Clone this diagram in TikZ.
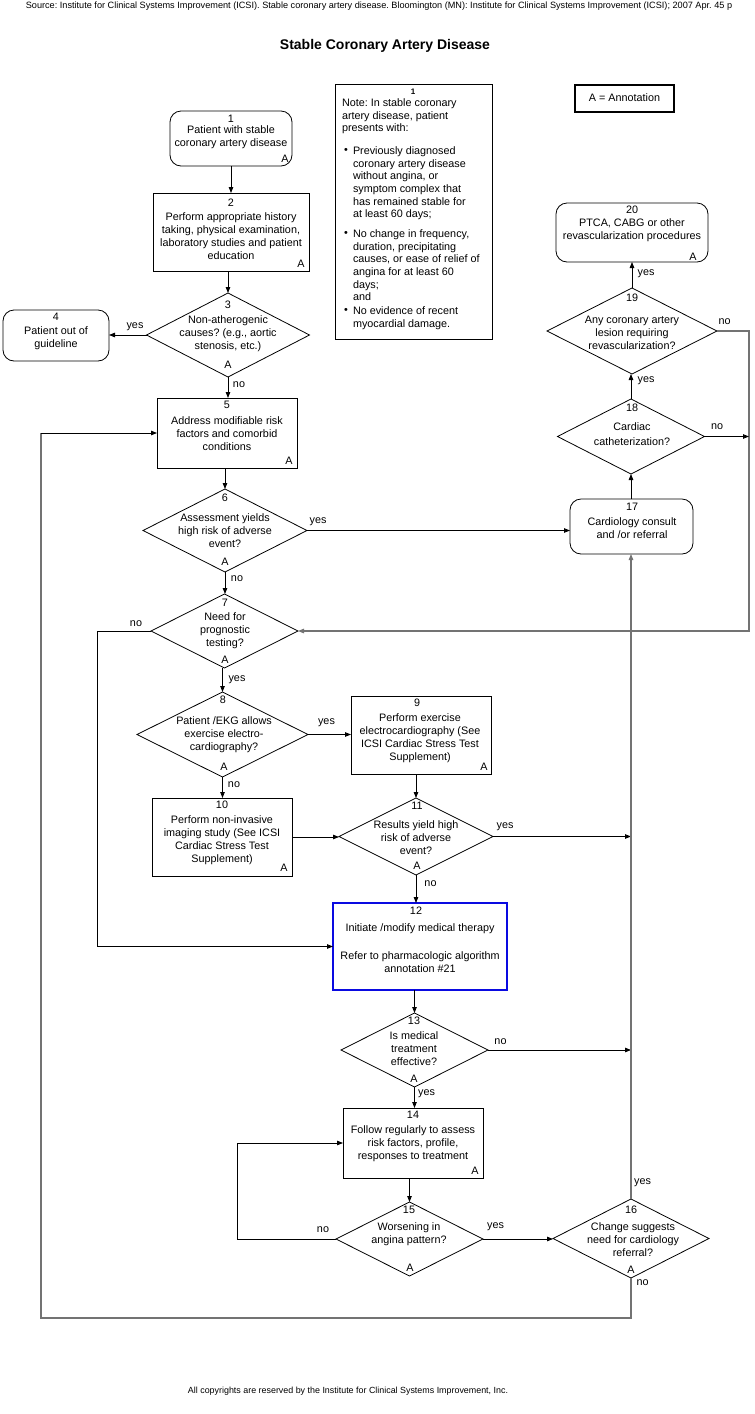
\documentclass[tikz,border=0pt]{standalone}
\usepackage{fontspec}
\setmainfont{Liberation Sans}
\usetikzlibrary{shapes.geometric,arrows.meta}
\definecolor{loopgray}{RGB}{115,115,115}
\definecolor{boxblue}{RGB}{10,10,225}
\frenchspacing
\begin{document}
\begin{tikzpicture}[x=1pt,y=-1pt,
  every node/.style={inner sep=0pt, outer sep=0pt},
  shp/.style={draw, line width=0.8pt},
  boxn/.style={shp, rectangle},
  rboxn/.style={shp, rectangle, rounded corners=11pt},
  dia/.style={shp, diamond},
  txt/.style={font=\fontsize{10.8}{13}\selectfont, align=center},
  notetxt/.style={font=\fontsize{10.8}{12.7}\selectfont, align=left, anchor=north west},
  num/.style={font=\fontsize{10.8}{13}\selectfont},
  lab/.style={font=\fontsize{10.8}{13}\selectfont},
  arr/.style={draw, line width=0.8pt, -{Triangle[length=6pt,width=4.5pt]}},
  garr/.style={arr, draw=loopgray, line width=1.1pt},
  gline/.style={draw=loopgray, line width=1.1pt},
]
\useasboundingbox (0,0) rectangle (755,1414);

% header, title, footer
\node[font=\fontsize{9.15}{10}\selectfont] (src) at (379,6) {Source: Institute for Clinical Systems Improvement (ICSI). Stable coronary artery disease. Bloomington (MN): Institute for Clinical Systems Improvement (ICSI); 2007 Apr. 45 p};
\node[font=\fontsize{14}{16}\selectfont\bfseries] (title) at (385,46) {Stable Coronary Artery Disease};
\node[font=\fontsize{8.9}{10}\selectfont] (foot) at (348,1391) {All copyrights are reserved by the Institute for Clinical Systems Improvement, Inc.};

% annotation legend
\node[draw, line width=2pt, minimum width=99pt, minimum height=27pt] (ann) at (624.5,98.5) {};
\node[num] (anntxt) at (624.5,98) {A = Annotation};

% note box
\node[boxn, minimum width=157pt, minimum height=255pt] (note) at (413.5,211.5) {};
\node[font=\fontsize{8}{9}\selectfont\bfseries] (notenum) at (413,92) {1};
\node[notetxt] (note1) at (342,98.5) {Note: In stable coronary\\artery disease, patient\\presents with:};
\node[num] (bul1) at (346,151) {•};
\node[notetxt] (note2) at (353,146.5) {Previously diagnosed\\coronary artery disease\\without angina, or\\symptom complex that\\has remained stable for\\at least 60 days;};
\node[num] (bul2) at (346,234) {•};
\node[notetxt] (note3) at (353,229.5) {No change in frequency,\\duration, precipitating\\causes, or ease of relief of\\angina for at least 60\\days;\\and};
\node[num] (bul3) at (346,311) {•};
\node[notetxt] (note4) at (353,306.5) {No evidence of recent\\myocardial damage.};

% 1
\node[rboxn, minimum width=122pt, minimum height=55pt] (n1) at (231,138.5) {};
\node[num] (n1num) at (231,119) {1};
\node[txt] (n1txt) at (231,137.5) {Patient with stable\\coronary artery disease};
\node[num] (n1a) at (285,159) {A};
% 2
\node[boxn, minimum width=156pt, minimum height=78pt] (n2) at (231,232) {};
\node[num] (n2num) at (231,203) {2};
\node[txt] (n2txt) at (231,236) {Perform appropriate history\\taking, physical examination,\\laboratory studies and patient\\education};
\node[num] (n2a) at (301,264) {A};
% 3
\node[dia, minimum width=163pt, minimum height=84pt] (d3) at (228,335) {};
\node[num] (d3num) at (228,305) {3};
\node[txt] (d3txt) at (228,333.5) {Non-atherogenic\\causes? (e.g., aortic\\stenosis, etc.)};
\node[num] (d3a) at (228,365) {A};
% 4
\node[rboxn, minimum width=106pt, minimum height=51pt] (n4) at (56,335.5) {};
\node[num] (n4num) at (56,317) {4};
\node[txt] (n4txt) at (56,338.5) {Patient out of\\guideline};
% 5
\node[boxn, minimum width=140pt, minimum height=70pt] (n5) at (227,433) {};
\node[num] (n5num) at (227,405) {5};
\node[txt] (n5txt) at (227,433.5) {Address modifiable risk\\factors and comorbid\\conditions};
\node[num] (n5a) at (289,461) {A};
% 6
\node[dia, minimum width=164pt, minimum height=83pt] (d6) at (225,530.5) {};
\node[num] (d6num) at (225,498) {6};
\node[txt] (d6txt) at (225,531) {Assessment yields\\high risk of adverse\\event?};
\node[num] (d6a) at (225,562) {A};
% 7
\node[dia, minimum width=147pt, minimum height=74pt] (d7) at (224.5,631) {};
\node[num] (d7num) at (225,603) {7};
\node[txt] (d7txt) at (225,631) {Need for\\prognostic\\testing?};
\node[num] (d7a) at (225,660) {A};
% 8
\node[dia, minimum width=171pt, minimum height=85pt] (d8) at (222.5,734.5) {};
\node[num] (d8num) at (223,700) {8};
\node[txt] (d8txt) at (224,735) {Patient /EKG allows\\exercise electro-\\cardiography?};
\node[num] (d8a) at (224,767) {A};
% 9
\node[boxn, minimum width=140pt, minimum height=78pt] (n9) at (421,735) {};
\node[num] (n9num) at (417,703) {9};
\node[txt] (n9txt) at (420,738) {Perform exercise\\electrocardiography (See\\ICSI Cardiac Stress Test\\Supplement)};
\node[num] (n9a) at (484,767) {A};
% 10
\node[boxn, minimum width=140pt, minimum height=78pt] (n10) at (222,837) {};
\node[num] (n10num) at (222,805) {10};
\node[txt] (n10txt) at (222,840) {Perform non-invasive\\imaging study (See ICSI\\Cardiac Stress Test\\Supplement)};
\node[num] (n10a) at (284,868) {A};
% 11
\node[dia, minimum width=154pt, minimum height=77pt] (d11) at (416,836.5) {};
\node[num] (d11num) at (417,806) {11};
\node[txt] (d11txt) at (416,837.5) {Results yield high\\risk of adverse\\event?};
\node[num] (d11a) at (417,866) {A};
% 12
\node[draw=boxblue, line width=2pt, minimum width=174pt, minimum height=87pt] (n12) at (420,946.5) {};
\node[num] (n12num) at (416,911) {12};
\node[txt] (n12txt1) at (420,929) {Initiate /modify medical therapy};
\node[txt] (n12txt2) at (420,962.5) {Refer to pharmacologic algorithm\\annotation \#21};
% 13
\node[dia, minimum width=147pt, minimum height=74pt] (d13) at (414.5,1050) {};
\node[num] (d13num) at (414,1021) {13};
\node[txt] (d13txt) at (414,1048.5) {Is medical\\treatment\\effective?};
\node[num] (d13a) at (414,1079) {A};
% 14
\node[boxn, minimum width=140pt, minimum height=70pt] (n14) at (413,1143) {};
\node[num] (n14num) at (413,1115) {14};
\node[txt] (n14txt) at (413,1143.5) {Follow regularly to assess\\risk factors, profile,\\responses to treatment};
\node[num] (n14a) at (475,1171) {A};
% 15
\node[dia, minimum width=147pt, minimum height=74pt] (d15) at (409.5,1239) {};
\node[num] (d15num) at (409,1210) {15};
\node[txt] (d15txt) at (409,1234.5) {Worsening in\\angina pattern?};
\node[num] (d15a) at (410,1268) {A};
% 16
\node[dia, minimum width=156pt, minimum height=79pt] (d16) at (631,1238.5) {};
\node[num] (d16num) at (631,1210) {16};
\node[txt] (d16txt) at (633,1240) {Change suggests\\need for cardiology\\referral?};
\node[num] (d16a) at (631,1270) {A};
% 17
\node[rboxn, minimum width=123pt, minimum height=55pt] (n17) at (631.5,526.5) {};
\node[num] (n17num) at (632,507) {17};
\node[txt] (n17txt) at (632,528) {Cardiology consult\\and /or referral};
% 18
\node[dia, minimum width=147pt, minimum height=75pt] (d18) at (631,436.5) {};
\node[num] (d18num) at (632,408) {18};
\node[txt, font=\fontsize{10.8}{15.5}\selectfont] (d18txt) at (632,434) {Cardiac\\catheterization?};
% 19
\node[dia, minimum width=170pt, minimum height=86pt] (d19) at (632,331) {};
\node[num] (d19num) at (632,298) {19};
\node[txt] (d19txt) at (632,333) {Any coronary artery\\lesion requiring\\revascularization?};
% 20
\node[rboxn, minimum width=152pt, minimum height=59pt] (n20) at (632,232.5) {};
\node[num] (n20num) at (632,210) {20};
\node[txt] (n20txt) at (632,230.5) {PTCA, CABG or other\\revascularization procedures};
\node[num] (n20a) at (693,257) {A};

% helper coordinates
\coordinate (rr) at (749,631);
\coordinate (ll) at (97,946.5);
\coordinate (lb) at (237,1143);
\coordinate (bb) at (41,1318);

% connectors
\draw[arr] (n1.south) -- (n1.south |- n2.north);
\draw[arr] (d3.north |- n2.south) -- (d3.north);
\draw[arr] (d3.west) -- (d3.west -| n4.east);
\draw[arr] (d3.south) -- (d3.south |- n5.north);
\draw[arr] (d6.north |- n5.south) -- (d6.north);
\draw[arr] (d6.south) -- (d6.south |- d7.north);
\draw[arr] (d6.east) -- (d6.east -| n17.west);
\draw[arr] (d18.south |- n17.north) -- (d18.south);
\draw[arr] (d18.north) -- (d18.north |- d19.south);
\draw[arr] (d19.north) -- (d19.north |- n20.south);
\draw[garr] (d19.east) -| (rr) -- (d7.east);
\draw[arr] (d18.east) -- (d18.east -| rr);
\draw[arr] (d7.west) -| (ll) -- (n12.west);
\draw[arr] (d8.north |- d7.south) -- (d8.north);
\draw[arr] (d8.east) -- (d8.east -| n9.west);
\draw[arr] (d8.south) -- (d8.south |- n10.north);
\draw[arr] (d11.north |- n9.south) -- (d11.north);
\draw[arr] (n10.east) -- (n10.east -| d11.west);
\draw[arr] (d11.east) -- (d11.east -| d16.north);
\draw[arr] (d11.south) -- (d11.south |- n12.north);
\draw[arr] (d13.north |- n12.south) -- (d13.north);
\draw[arr] (d13.east) -- (d13.east -| d16.north);
\draw[arr] (d13.south) -- (d13.south |- n14.north);
\draw[arr] (d15.north |- n14.south) -- (d15.north);
\draw[arr] (d15.west) -| (lb) -- (n14.west);
\draw[arr] (d15.east) -- (d15.east -| d16.west);
\draw[garr] (d16.north) -- (d16.north |- n17.south);
\draw[gline] (d16.south) |- (bb) -- (bb |- n5.west);
\draw[arr] (bb |- n5.west) -- (n5.west);

% connector labels
\node[lab] (l3y) at (135,327) {yes};
\node[lab] (l3n) at (239,385) {no};
\node[lab] (l6y) at (318,522) {yes};
\node[lab] (l6n) at (237,579) {no};
\node[lab] (l7n) at (136,624) {no};
\node[lab] (l7y) at (237,680) {yes};
\node[lab] (l8y) at (326.5,723) {yes};
\node[lab] (l8n) at (234,785) {no};
\node[lab] (l11y) at (505,827) {yes};
\node[lab] (l11n) at (430.5,884) {no};
\node[lab] (l13n) at (500.5,1042) {no};
\node[lab] (l13y) at (426.5,1094) {yes};
\node[lab] (l15n) at (323,1230) {no};
\node[lab] (l15y) at (495.5,1227) {yes};
\node[lab] (l16y) at (642.5,1183) {yes};
\node[lab] (l16n) at (642.5,1283) {no};
\node[lab] (l19n) at (724.5,322) {no};
\node[lab] (l18n) at (717,427) {no};
\node[lab] (l18y) at (646,381) {yes};
\node[lab] (l19y) at (646,274) {yes};
\end{tikzpicture}
\end{document}
